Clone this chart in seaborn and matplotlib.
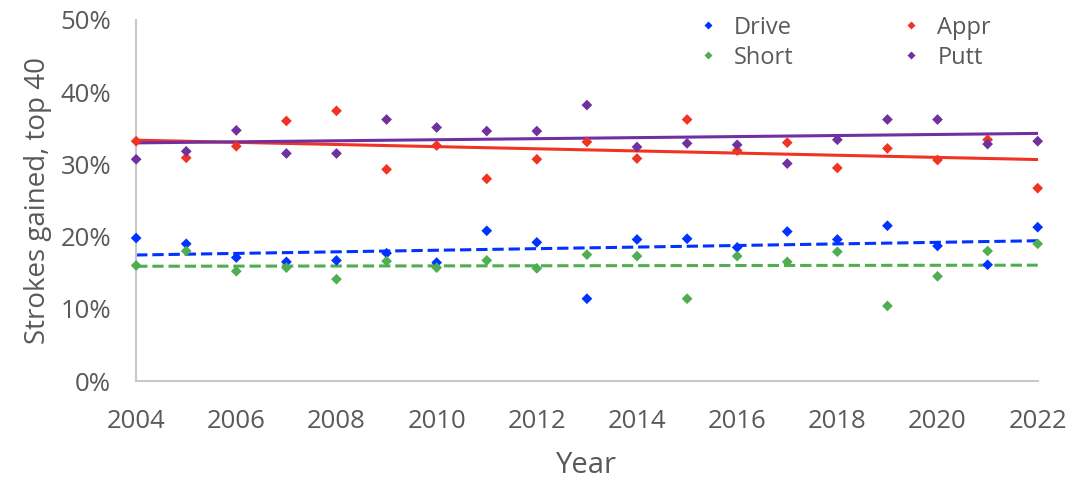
import matplotlib
matplotlib.use("Agg")
import matplotlib.pyplot as plt
import matplotlib.ticker as mticker
import pandas as pd
import numpy as np
import seaborn as sns

# data (percent of strokes gained, top 40)
years = list(range(2004, 2023))
drive = [19.8, 19.0, 17.1, 16.5, 16.7, 17.7, 16.4, 20.8, 19.2, 11.4, 19.6, 19.7, 18.5,
         20.7, 19.6, 21.5, 18.7, 16.1, 21.3]
short = [16.0, 18.0, 15.2, 15.7, 14.1, 16.6, 15.7, 16.7, 15.6, 17.5, 17.3, 11.4, 17.3,
         16.5, 17.9, 10.4, 14.5, 18.0, 19.0]
appr = [33.2, 30.9, 32.5, 36.0, 37.4, 29.3, 32.6, 28.0, 30.7, 33.1, 30.8, 36.2, 31.9,
        33.0, 29.5, 32.2, 30.6, 33.4, 26.7]
putt = [30.7, 31.8, 34.7, 31.5, 31.5, 36.2, 35.1, 34.6, 34.6, 38.2, 32.4, 32.9, 32.7,
        30.1, 33.4, 36.2, 36.2, 32.8, 33.2]

df = pd.DataFrame({"Year": years, "Drive": drive, "Appr": appr, "Short": short, "Putt": putt})
long = df.melt(id_vars="Year", var_name="Category", value_name="Value")

sns.set_style("white")
plt.rcParams['font.family'] = ['Open Sans', 'DejaVu Sans']
grey = "#595959"

colors = {"Drive": "#0033ff", "Appr": "#f03323", "Short": "#4fae50", "Putt": "#7030a0"}
styles = {"Drive": "--", "Appr": "-", "Short": "--", "Putt": "-"}
# legend fills column by column: Drive/Short left, Appr/Putt right
order = ["Drive", "Short", "Appr", "Putt"]

fig, ax = plt.subplots(figsize=(10.72, 4.83), dpi=100)
fig.subplots_adjust(left=0.127, right=0.968, bottom=0.211, top=0.959)

sns.scatterplot(data=long, x="Year", y="Value", hue="Category", hue_order=order,
                palette=colors, marker="D", s=30, edgecolor="none", ax=ax,
                clip_on=False, zorder=3)

# linear trend lines
for cat in order:
    sns.regplot(data=df, x="Year", y=cat, scatter=False, ci=None, truncate=True,
                color=colors[cat], ax=ax,
                line_kws={"linestyle": styles[cat], "linewidth": 2.2})

ax.set_xlim(2004, 2022)
ax.set_ylim(0, 50)
ax.set_xticks(range(2004, 2023, 2))
ax.set_yticks(range(0, 51, 10))
ax.yaxis.set_major_formatter(mticker.FuncFormatter(lambda v, p: f"{v:.0f}%"))
ax.tick_params(axis="both", direction="in", length=6, color="#c8c8c8",
               labelsize=18.5, labelcolor=grey)
ax.tick_params(axis="x", pad=20)
ax.tick_params(axis="y", pad=18)
for side in ["top", "right"]:
    ax.spines[side].set_visible(False)
for side in ["left", "bottom"]:
    ax.spines[side].set_color("#c8c8c8")
    ax.spines[side].set_linewidth(1.5)

ax.set_xlabel("Year", fontsize=21, color=grey, labelpad=12)
ax.set_ylabel("Strokes gained, top 40", fontsize=20, color=grey, labelpad=6)

handles, labels = ax.get_legend_handles_labels()
leg = ax.legend(handles, labels, ncol=2, frameon=False, loc="upper left",
                bbox_to_anchor=(0.6, 1.07), fontsize=17, markerscale=0.8,
                handlelength=0.8, handletextpad=0.7, columnspacing=4.6,
                labelspacing=0.25)
for t in leg.get_texts():
    t.set_color(grey)

plt.savefig("out.png", dpi=100)
